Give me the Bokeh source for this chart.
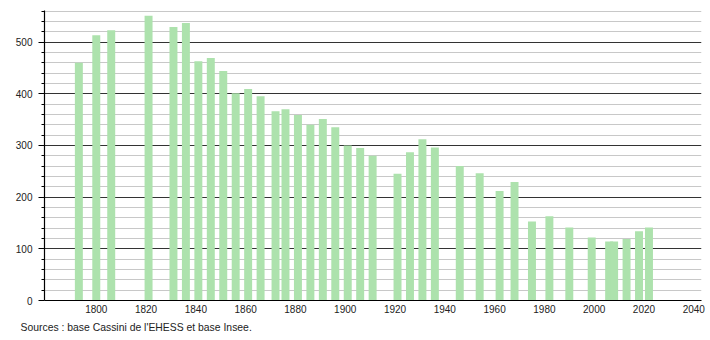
from bokeh.plotting import figure
from bokeh.models import FixedTicker, Title, Range1d
from bokeh.embed import file_html
from bokeh.resources import INLINE

years = [1793, 1800, 1806, 1821, 1831, 1836, 1841, 1846, 1851, 1856, 1861, 1866,
         1872, 1876, 1881, 1886, 1891, 1896, 1901, 1906, 1911, 1921, 1926, 1931,
         1936, 1946, 1954, 1962, 1968, 1975, 1982, 1990, 1999, 2006, 2008, 2013,
         2018, 2022]
population = [460, 513, 523, 551, 529, 537, 463, 469, 444, 401, 409, 395,
              366, 370, 359, 340, 351, 335, 300, 295, 280, 245, 287, 312,
              296, 260, 246, 212, 229, 153, 163, 141, 122, 114, 114, 119,
              134, 141]
x_ticks = [1800, 1820, 1840, 1860, 1880, 1900, 1920, 1940, 1960, 1980, 2000, 2020, 2040]
y_ticks = [0, 100, 200, 300, 400, 500]
y_minor = [v for v in range(20, 580, 20) if v % 100 != 0]
source_text = "Sources : base Cassini de l'EHESS et base Insee."

FONT = "Liberation Sans"
BAR = "#ade2ad"

p = figure(width=710, height=340, output_backend="svg", toolbar_location=None,
           x_range=Range1d(1779.2, 2043.1), y_range=Range1d(0, 561),
           min_border_left=44, min_border_right=9, min_border_top=10,
           min_border_bottom=40)
p.outline_line_color = None
p.background_fill_color = "white"
p.border_fill_color = "white"

p.vbar(x=years, top=population, width=3.2, fill_color=BAR, line_color=None)

# x axis
p.xaxis.ticker = FixedTicker(ticks=x_ticks)
p.xaxis.major_tick_out = 0
p.xaxis.major_tick_in = 0
p.xaxis.minor_tick_out = 0
p.xaxis.minor_tick_in = 0
p.xaxis.axis_line_color = "black"
p.xaxis.axis_line_width = 1.2
p.xaxis.major_label_standoff = 4
p.xaxis.major_label_text_font = FONT
p.xaxis.major_label_text_font_size = "10px"
p.xaxis.major_label_text_color = "#222222"

# y axis
p.yaxis.ticker = FixedTicker(ticks=y_ticks, minor_ticks=y_minor)
p.yaxis.major_tick_out = 6
p.yaxis.major_tick_in = 0
p.yaxis.minor_tick_out = 3
p.yaxis.minor_tick_in = 0
p.yaxis.axis_line_color = "black"
p.yaxis.axis_line_width = 1.2
p.yaxis.major_tick_line_color = "black"
p.yaxis.minor_tick_line_color = "black"
p.yaxis.major_label_standoff = 6
p.yaxis.major_label_text_font = FONT
p.yaxis.major_label_text_font_size = "10px"
p.yaxis.major_label_text_color = "#222222"

p.xgrid.visible = False
p.ygrid.ticker = FixedTicker(ticks=y_ticks[1:], minor_ticks=y_minor)
p.ygrid.grid_line_color = "#333333"
p.ygrid.grid_line_width = 1
p.ygrid.minor_grid_line_color = "#c8c8c8"
p.ygrid.minor_grid_line_width = 1

p.add_layout(Title(text=source_text, align="left", offset=-24, standoff=8,
                   text_font=FONT, text_font_size="10.4px", text_font_style="normal",
                   text_color="#222222"), "below")

open("out.html", "w").write(file_html(p, INLINE))
